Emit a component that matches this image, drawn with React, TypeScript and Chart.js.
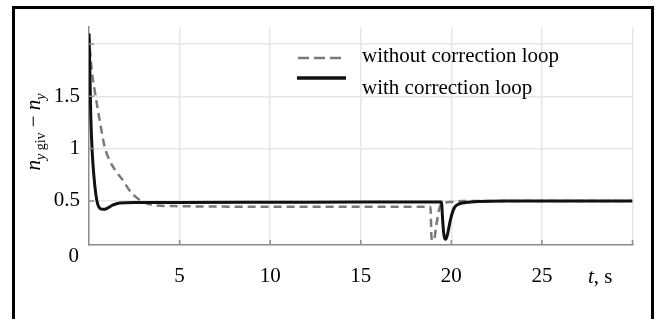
import { useEffect, useRef } from "react";
import { Chart, registerables } from "chart.js";

Chart.register(...registerables);

// Response with the correction loop (solid black)
const tWith = [0, 0.03, 0.1, 0.18, 0.28, 0.38, 0.48, 0.6, 0.8, 1.0, 1.3, 1.7, 2.5, 5, 10, 15, 19.45, 19.52, 19.58, 19.64, 19.7, 19.8, 19.95, 20.15, 20.4, 20.8, 21.5, 23, 30];
const nWith = [2.1, 1.9, 1.3, 0.96, 0.72, 0.56, 0.47, 0.43, 0.42, 0.43, 0.46, 0.48, 0.485, 0.485, 0.487, 0.49, 0.49, 0.32, 0.19, 0.14, 0.135, 0.19, 0.32, 0.43, 0.47, 0.485, 0.495, 0.5, 0.5];

// Response without the correction loop (dashed grey)
const tWithout = [0, 0.05, 0.15, 0.3, 0.58, 0.86, 1.13, 1.5, 1.86, 2.2, 2.5, 3.0, 3.6, 5, 10, 15, 18.85, 18.9, 18.97, 19.05, 19.15, 19.3, 19.45, 20, 20.6, 30];
const nWithout = [2.08, 1.95, 1.75, 1.57, 1.28, 1.02, 0.89, 0.78, 0.7, 0.61, 0.55, 0.49, 0.46, 0.45, 0.445, 0.445, 0.445, 0.16, 0.12, 0.13, 0.24, 0.4, 0.47, 0.49, 0.5, 0.5];

const seriesNames = ["without correction loop", "with correction loop"];

const xTicks = [5, 10, 15, 20, 25, 30];
const xTickLabels = ["5", "10", "15", "20", "25", ""];
const yTicks = [0.5, 1, 1.5, 2];
const yTickLabels = ["0.5", "1", "1.5", ""];

const SERIF = "'Liberation Serif', 'Times New Roman', serif";
const GRID = "#e6e6e6";
const AXIS = "#8c8c8c";
const DASHED = "#7a7a7a";

const frame = {
  id: "frame",
  beforeDraw(chart: any) {
    const { ctx } = chart;
    const h = chart.height;
    ctx.save();
    ctx.fillStyle = "#fff";
    ctx.fillRect(0, 0, chart.width, h);
    ctx.fillStyle = "#000";
    ctx.fillRect(12, 6, 3, h - 8);
    ctx.fillRect(12, 6, 642, 3);
    ctx.fillRect(651, 6, 3, h - 8);
    ctx.restore();
  },
};

const overlay = {
  id: "overlay",
  afterDraw(chart: any) {
    const { ctx, scales } = chart;
    const xs = scales.x;
    const ys = scales.y;
    const area = chart.chartArea;
    ctx.save();

    // inward tick marks
    ctx.strokeStyle = AXIS;
    ctx.lineWidth = 1.5;
    ctx.beginPath();
    xTicks.forEach((v) => {
      const px = xs.getPixelForValue(v);
      ctx.moveTo(px, area.bottom);
      ctx.lineTo(px, area.bottom - 5);
    });
    yTicks.forEach((v) => {
      const py = ys.getPixelForValue(v);
      ctx.moveTo(area.left, py);
      ctx.lineTo(area.left + 5, py);
    });
    ctx.stroke();

    ctx.fillStyle = "#000";
    ctx.textBaseline = "alphabetic";

    // origin label
    ctx.font = `21px ${SERIF}`;
    ctx.textAlign = "right";
    ctx.fillText("0", 79, 262);

    // x axis title: t, s
    ctx.textAlign = "left";
    ctx.font = `italic 21px ${SERIF}`;
    ctx.fillText("t", 588, 283);
    const tw = ctx.measureText("t").width;
    ctx.font = `21px ${SERIF}`;
    ctx.fillText(", s", 588 + tw, 283);

    // y axis title: n_{y giv} − n_y
    const parts: [string, string, number][] = [
      ["n", "italic 21px", 0],
      ["y", "italic 14px", 5],
      [" giv", "14px", 5],
      [" \u2212 ", "21px", 0],
      ["n", "italic 21px", 0],
      ["y", "italic 14px", 5],
    ];
    let total = 0;
    parts.forEach(([s, f]) => {
      ctx.font = `${f} ${SERIF}`;
      total += ctx.measureText(s).width;
    });
    ctx.translate(40, 132 + total / 2);
    ctx.rotate(-Math.PI / 2);
    let cx = 0;
    parts.forEach(([s, f, dy]) => {
      ctx.font = `${f} ${SERIF}`;
      ctx.fillText(s, cx, dy);
      cx += ctx.measureText(s).width;
    });
    ctx.setTransform(1, 0, 0, 1, 0, 0);

    // legend
    const ds = chart.data.datasets;
    ctx.lineCap = "butt";
    ctx.strokeStyle = ds[1].borderColor;
    ctx.lineWidth = 2.5;
    ctx.setLineDash([11, 5]);
    ctx.beginPath();
    ctx.moveTo(298, 58);
    ctx.lineTo(346, 58);
    ctx.stroke();
    ctx.setLineDash([]);
    ctx.strokeStyle = ds[0].borderColor;
    ctx.lineWidth = 3.5;
    ctx.beginPath();
    ctx.moveTo(297, 78);
    ctx.lineTo(346, 78);
    ctx.stroke();
    ctx.font = `21px ${SERIF}`;
    ctx.fillStyle = "#000";
    ctx.fillText(ds[1].label, 362, 62);
    ctx.fillText(ds[0].label, 362, 94);

    ctx.restore();
  },
};

export default function App() {
  const canvasRef = useRef<HTMLCanvasElement | null>(null);

  useEffect(() => {
    document.body.style.margin = "0";
    const canvas = canvasRef.current;
    if (!canvas) return;
    const chart = new Chart(canvas, {
      type: "line",
      data: {
        datasets: [
          {
            label: seriesNames[1],
            data: tWith.map((t, i) => ({ x: t, y: nWith[i] })),
            borderColor: "#111111",
            borderWidth: 3,
            pointRadius: 0,
            cubicInterpolationMode: "monotone",
            order: 0,
          },
          {
            label: seriesNames[0],
            data: tWithout.map((t, i) => ({ x: t, y: nWithout[i] })),
            borderColor: DASHED,
            borderWidth: 2.5,
            borderDash: [8, 5],
            pointRadius: 0,
            cubicInterpolationMode: "monotone",
            order: 1,
          },
        ],
      },
      options: {
        responsive: false,
        animation: false,
        events: [],
        layout: { padding: { left: 0, top: 27, right: 26.5, bottom: 0 } },
        plugins: { legend: { display: false }, tooltip: { enabled: false } },
        scales: {
          x: {
            type: "linear",
            min: 0,
            max: 30,
            afterBuildTicks: (s: any) => {
              s.ticks = xTicks.map((v) => ({ value: v }));
            },
            afterFit: (s: any) => {
              s.height = 76;
            },
            ticks: {
              autoSkip: false,
              maxRotation: 0,
              padding: 19,
              color: "#000",
              font: { family: SERIF, size: 21 },
              callback: (v: any) => xTickLabels[xTicks.indexOf(Number(v))] ?? "",
            },
            grid: { color: GRID, lineWidth: 1.5, drawTicks: false },
            border: { color: AXIS, width: 1.5 },
          },
          y: {
            type: "linear",
            min: 0.079,
            max: 2.162,
            afterBuildTicks: (s: any) => {
              s.ticks = yTicks.map((v) => ({ value: v }));
            },
            afterFit: (s: any) => {
              s.width = 89;
            },
            ticks: {
              padding: 9,
              color: "#000",
              font: { family: SERIF, size: 21 },
              callback: (v: any) => yTickLabels[yTicks.indexOf(Number(v))] ?? "",
            },
            grid: { color: GRID, lineWidth: 1.5, drawTicks: false },
            border: { color: AXIS, width: 1.5 },
          },
        },
      },
      plugins: [frame, overlay],
    } as any);
    return () => chart.destroy();
  }, []);

  return (
    <div style={{ width: 659, height: 321, overflow: "hidden" }}>
      <canvas ref={canvasRef} width={659} height={321} style={{ display: "block" }} />
    </div>
  );
}
